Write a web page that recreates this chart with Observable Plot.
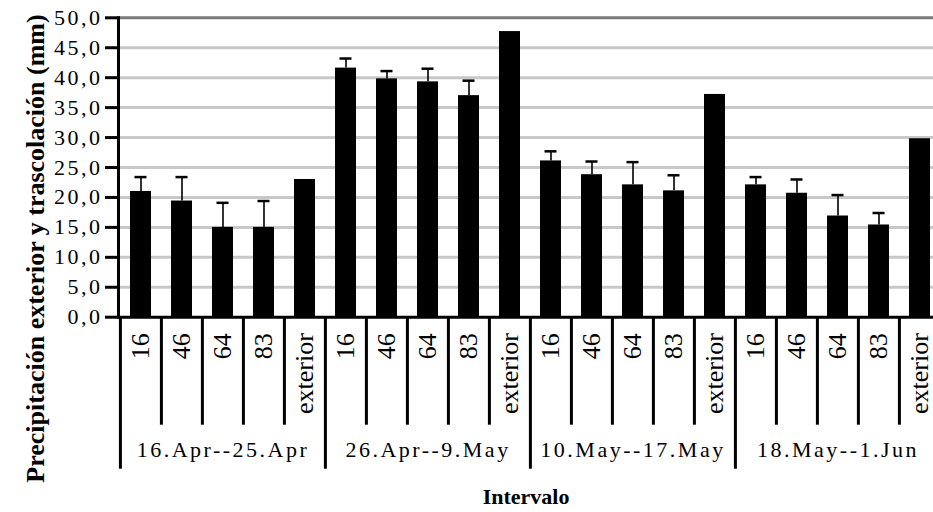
<!DOCTYPE html>
<html>
<head>
<meta charset="utf-8">
<script src="https://cdn.jsdelivr.net/npm/d3@7"></script>
<script src="https://cdn.jsdelivr.net/npm/@observablehq/plot@0.6"></script>
<style>
  html, body { margin: 0; padding: 0; background: #fff; overflow: hidden; }
  g[aria-label="y-axis tick label"] text { letter-spacing: 2.5px; }
</style>
</head>
<body>
<div id="chart"></div>
<script>
// ---- data ----
const groups = ["16.Apr--25.Apr", "26.Apr--9.May", "10.May--17.May", "18.May--1.Jun"];
const sites = ["16", "46", "64", "83", "exterior"];
const values = [
  [21.0, 19.4, 15.0, 15.0, 23.0],
  [41.6, 39.8, 39.3, 37.0, 47.7],
  [26.1, 23.8, 22.1, 21.1, 37.2],
  [22.1, 20.7, 16.9, 15.4, 29.8]
];
const errors = [
  [2.4, 4.0, 4.1, 4.4, null],
  [1.6, 1.3, 2.2, 2.5, null],
  [1.6, 2.2, 3.8, 2.6, null],
  [1.3, 2.3, 3.5, 2.0, null]
];
const yTicks = [0, 5, 10, 15, 20, 25, 30, 35, 40, 45, 50];
const yTitle = "Precipitación exterior y trascolación (mm)";
const xTitle = "Intervalo";

// ---- table built from the arrays ----
const key = (g, s) => `${g}|${s}`;
const rows = [];
groups.forEach((g, gi) => sites.forEach((s, si) => {
  rows.push({key: key(gi, si), group: g, site: s, si, value: values[gi][si], err: errors[gi][si]});
}));
const errRows = rows.filter(d => d.err != null);
const keys = rows.map(d => d.key);
const fmt = d => d.toFixed(1).replace(".", ",");
const half = (942 - 118) / 20 / 2;

const chart = Plot.plot({
  width: 933,
  height: 512,
  marginLeft: 118,
  marginRight: 0,
  marginTop: 17.3,
  marginBottom: 195.3,
  style: {fontFamily: "'Liberation Serif', 'Times New Roman', serif", color: "#000", background: "#fff"},
  x: {domain: keys, range: [118, 942], paddingInner: 0.5, paddingOuter: 0.25, axis: null},
  y: {domain: [0, 50], axis: null},
  marks: [
    // gridlines
    Plot.ruleY(yTicks.filter(t => t > 0 && t < 50), {stroke: "#c8c8c8", strokeWidth: 3}),
    Plot.frame({anchor: "top", stroke: "#7a7a7a", strokeWidth: 3}),
    // bars
    Plot.barY(rows, {x: "key", y: "value", fill: "#000"}),
    // error bars
    Plot.ruleX(errRows, {x: "key", y1: "value", y2: d => d.value + d.err, stroke: "#000", strokeWidth: 1.6}),
    Plot.tickY(errRows, {x: "key", y: d => d.value + d.err, stroke: "#000", strokeWidth: 2.5, insetLeft: 4.5, insetRight: 4.5}),
    // y axis
    Plot.frame({anchor: "left", stroke: "#000", strokeWidth: 3}),
    Plot.axisY({ticks: yTicks, tickSize: 13, strokeWidth: 3, tickPadding: 3, tickFormat: fmt, fontSize: 22, label: null}),
    // x baseline
    Plot.ruleY([0], {stroke: "#000", strokeWidth: 3}),
    // category separators
    Plot.ruleX(rows.filter(d => d.si !== 0), {x: "key", y1: 0, y2: 0, dx: -half, insetBottom: -108, stroke: "#000", strokeWidth: 3}),
    Plot.ruleX(rows.filter(d => d.si === 0), {x: "key", y1: 0, y2: 0, dx: -half, insetBottom: -152, stroke: "#000", strokeWidth: 3}),
    // sub-category labels
    Plot.text(rows, {x: "key", text: "site", frameAnchor: "bottom", dy: 16, rotate: -90, textAnchor: "end", lineAnchor: "middle", fontSize: 26, fill: "#000"}),
    // group labels
    Plot.text(groups, {x: (d, i) => key(i, 2), text: d => d, frameAnchor: "bottom", dy: 140, lineAnchor: "bottom", textAnchor: "middle", fontSize: 22, fill: "#000"}),
    // titles
    Plot.text([xTitle], {frameAnchor: "bottom", dy: 187, lineAnchor: "bottom", textAnchor: "middle", fontSize: 22, fontWeight: "bold", fill: "#000"}),
    Plot.text([yTitle], {frameAnchor: "left", dx: -83, dy: 81, rotate: -90, textAnchor: "middle", lineAnchor: "middle", fontSize: 26, fontWeight: "bold", fill: "#000"})
  ]
});
d3.select(chart).selectAll("text")
  .filter(function () { return groups.includes(this.textContent); })
  .style("letter-spacing", "2.5px");
document.getElementById("chart").appendChild(chart);
</script>
</body>
</html>
